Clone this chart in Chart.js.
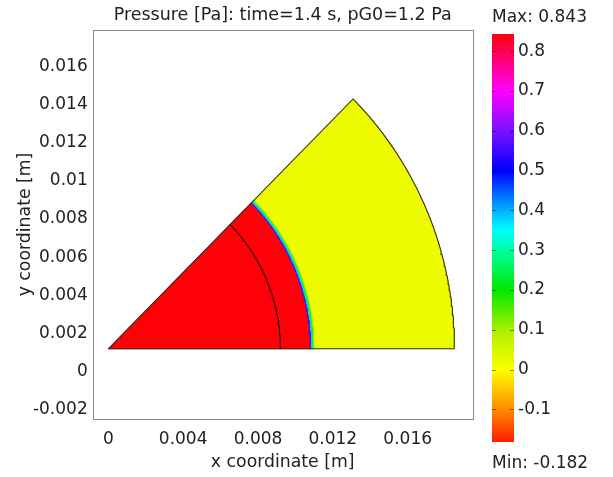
<!DOCTYPE html>
<html>
<head>
<meta charset="utf-8">
<script src="https://cdn.jsdelivr.net/npm/chart.js@4"></script>
<style>
  html, body { margin: 0; padding: 0; background: #ffffff; }
  #wrap { position: relative; width: 613px; height: 477px; }
  #main { position: absolute; left: 0; top: 0; }
  #cbar { position: absolute; left: 480px; top: 0; }
</style>
</head>
<body>
<div id="wrap">
  <canvas id="main" width="613" height="477"></canvas>
  <canvas id="cbar" width="133" height="477"></canvas>
</div>
<script>
// ---------- data ----------
const chartTitle = 'Pressure [Pa]: time=1.4 s, pG0=1.2 Pa';
const xAxisTitle = 'x coordinate [m]';
const yAxisTitle = 'y coordinate [m]';

const xRange = [-0.000834, 0.019474];
const yRange = [-0.002476, 0.01789];
const xTickValues = [0, 0.004, 0.008, 0.012, 0.016];
const yTickValues = [-0.002, 0, 0.002, 0.004, 0.006, 0.008, 0.01, 0.012, 0.014, 0.016];

// geometry of the sector (apex, radius, opening angle) and internal boundary
const sectorApex = [0, 0.0012];
const sectorRadius = 0.0185;
const sectorAngleDeg = 45;
const innerBoundaryRadius = 0.0092;

// radial pressure profile (bands of constant pressure)
const bandInnerRadius = [0, 0.01075, 0.01082, 0.01088, 0.01094, 0.01100];
const bandOuterRadius = [0.01075, 0.01082, 0.01088, 0.01094, 0.01100, 0.0185];
const bandPressure    = [0.843, 0.55, 0.38, 0.25, 0.12, 0.02];

// colour bar
const cbarMin = -0.182;
const cbarMax = 0.843;
const cbarTickValues = [-0.1, 0, 0.1, 0.2, 0.3, 0.4, 0.5, 0.6, 0.7, 0.8];
const cbarStopValues = [-0.182, -0.1, 0, 0.1, 0.2, 0.3, 0.35, 0.4, 0.5, 0.6, 0.7, 0.8, 0.843];
const cbarStopColors = ['#ff1a00', '#ff8c00', '#ffff00', '#a8f000', '#00e800', '#00ffa0',
                        '#00ffff', '#00b0ff', '#0000ff', '#7a10ff', '#ff00ff', '#ff0050', '#ff0008'];

// ---------- helpers ----------
function hexToRgb(h) {
  const n = parseInt(h.slice(1), 16);
  return [(n >> 16) & 255, (n >> 8) & 255, n & 255];
}
function colormap(v) {
  if (v <= cbarStopValues[0]) return cbarStopColors[0];
  for (let i = 1; i < cbarStopValues.length; i++) {
    if (v <= cbarStopValues[i]) {
      const t = (v - cbarStopValues[i - 1]) / (cbarStopValues[i] - cbarStopValues[i - 1]);
      const a = hexToRgb(cbarStopColors[i - 1]), b = hexToRgb(cbarStopColors[i]);
      const c = a.map((x, k) => Math.round(x + (b[k] - x) * t));
      return 'rgb(' + c.join(',') + ')';
    }
  }
  return cbarStopColors[cbarStopColors.length - 1];
}
const ARC_STEPS = 90;
function arcPoints(r, fromDeg, toDeg) {
  const pts = [];
  for (let i = 0; i <= ARC_STEPS; i++) {
    const a = (fromDeg + (toDeg - fromDeg) * i / ARC_STEPS) * Math.PI / 180;
    pts.push({ x: sectorApex[0] + r * Math.cos(a), y: sectorApex[1] + r * Math.sin(a) });
  }
  return pts;
}
function bandPolygon(rIn, rOut) {
  const pts = arcPoints(rOut, 0, sectorAngleDeg);
  if (rIn > 0) pts.push(...arcPoints(rIn, sectorAngleDeg, 0));
  else pts.push({ x: sectorApex[0], y: sectorApex[1] });
  pts.push(pts[0]);
  return pts;
}
const fmt = v => String(parseFloat(Number(v).toFixed(6)));

Chart.defaults.font.family = "'DejaVu Sans', Verdana, sans-serif";
Chart.defaults.font.size = 17;
Chart.defaults.color = '#222222';

// ---------- main chart ----------
const datasets = [];
// sector outline
const outline = [{ x: sectorApex[0], y: sectorApex[1] }]
  .concat(arcPoints(sectorRadius, 0, sectorAngleDeg))
  .concat([{ x: sectorApex[0], y: sectorApex[1] }]);
datasets.push({
  data: outline, showLine: true, fill: false, borderColor: '#2e2e1a', borderWidth: 1.1,
  pointRadius: 0, order: 0
});
datasets.push({
  data: arcPoints(innerBoundaryRadius, 0, sectorAngleDeg), showLine: true, fill: false,
  borderColor: '#2a0000', borderWidth: 1.1, pointRadius: 0, order: 0
});
for (let i = 0; i < bandPressure.length; i++) {
  const col = colormap(bandPressure[i]);
  datasets.push({
    data: bandPolygon(bandInnerRadius[i], bandOuterRadius[i]),
    showLine: true, fill: 'shape', backgroundColor: col, borderColor: col,
    borderWidth: 0.8, pointRadius: 0, order: 1
  });
}

const framePlugin = {
  id: 'frame',
  afterDraw(chart) {
    const { ctx, chartArea: a } = chart;
    ctx.save();
    ctx.strokeStyle = '#8a8a8a';
    ctx.lineWidth = 1;
    ctx.strokeRect(Math.round(a.left) + 0.5, Math.round(a.top) + 0.5,
                   Math.round(a.right - a.left), Math.round(a.bottom - a.top));
    ctx.restore();
  }
};

new Chart(document.getElementById('main'), {
  type: 'scatter',
  data: { datasets },
  options: {
    responsive: false, animation: false, events: [],
    layout: { padding: { left: 0, right: 140.3, top: 0, bottom: 0 } },
    elements: { point: { radius: 0 } },
    plugins: {
      legend: { display: false }, tooltip: { enabled: false },
      title: {
        display: true, text: chartTitle, fullSize: false,
        font: { size: 17.5, weight: 'normal' }, color: '#222222',
        padding: { top: 4.5, bottom: 4.5 }
      }
    },
    scales: {
      x: {
        type: 'linear', min: xRange[0], max: xRange[1],
        afterBuildTicks: s => { s.ticks = xTickValues.map(v => ({ value: v })); },
        afterFit: s => { s.height = 58; },
        ticks: { callback: v => fmt(v), padding: 10, maxRotation: 0, autoSkip: false },
        grid: { display: false, drawTicks: false },
        border: { display: false },
        title: { display: true, text: xAxisTitle, font: { size: 17.3 }, padding: { top: 0, bottom: 3.8 } }
      },
      y: {
        type: 'linear', min: yRange[0], max: yRange[1],
        afterBuildTicks: s => { s.ticks = yTickValues.map(v => ({ value: v })); },
        afterFit: s => { s.width = 92.7; },
        ticks: { callback: v => fmt(v), padding: 5, autoSkip: false },
        grid: { display: false, drawTicks: false },
        border: { display: false },
        title: { display: true, text: yAxisTitle, font: { size: 17.3 }, padding: { top: 15, bottom: 0 } }
      }
    }
  },
  plugins: [framePlugin]
});

// ---------- colour bar ----------
const cbarTicksPlugin = {
  id: 'cbarTicks',
  afterDatasetsDraw(chart) {
    const { ctx, chartArea: a } = chart;
    const s = chart.scales.y;
    ctx.save();
    ctx.strokeStyle = 'rgba(0,0,0,0.45)';
    ctx.lineWidth = 1;
    s.ticks.forEach(t => {
      const y = Math.round(s.getPixelForValue(t.value)) + 0.5;
      ctx.beginPath();
      ctx.moveTo(a.left, y); ctx.lineTo(a.left + 4, y);
      ctx.moveTo(a.right - 4, y); ctx.lineTo(a.right, y);
      ctx.stroke();
    });
    ctx.restore();
  }
};

new Chart(document.getElementById('cbar'), {
  type: 'bar',
  data: {
    labels: [''],
    datasets: [{
      data: [[cbarMin, cbarMax]],
      barPercentage: 1, categoryPercentage: 1, borderWidth: 0, borderSkipped: false,
      backgroundColor: (c) => {
        const chart = c.chart;
        if (!chart.chartArea) return '#ff0000';
        const s = chart.scales.y;
        const y0 = s.getPixelForValue(cbarMin), y1 = s.getPixelForValue(cbarMax);
        const g = chart.ctx.createLinearGradient(0, y0, 0, y1);
        cbarStopValues.forEach((v, i) => g.addColorStop((v - cbarMin) / (cbarMax - cbarMin), cbarStopColors[i]));
        return g;
      }
    }]
  },
  options: {
    responsive: false, animation: false, events: [],
    layout: { padding: { left: 12, right: 0, top: 0, bottom: 0 } },
    plugins: {
      legend: { display: false }, tooltip: { enabled: false },
      title: {
        display: true, text: 'Max: ' + fmt(cbarMax), align: 'start',
        font: { size: 17, weight: 'normal' }, color: '#222222',
        padding: { top: 7, bottom: 6.6 }
      },
      subtitle: {
        display: true, text: 'Min: ' + fmt(cbarMin), position: 'bottom', align: 'start',
        font: { size: 17, weight: 'normal' }, color: '#222222',
        padding: { top: 11, bottom: 3.6 }
      }
    },
    scales: {
      x: { display: false },
      y: {
        position: 'right', min: cbarMin, max: cbarMax,
        afterBuildTicks: s => { s.ticks = cbarTickValues.map(v => ({ value: v })); },
        afterFit: s => { s.width = 99; },
        ticks: { callback: v => fmt(v), padding: 4, autoSkip: false },
        grid: { display: false, drawTicks: false },
        border: { display: false }
      }
    }
  },
  plugins: [cbarTicksPlugin]
});
</script>
</body>
</html>
